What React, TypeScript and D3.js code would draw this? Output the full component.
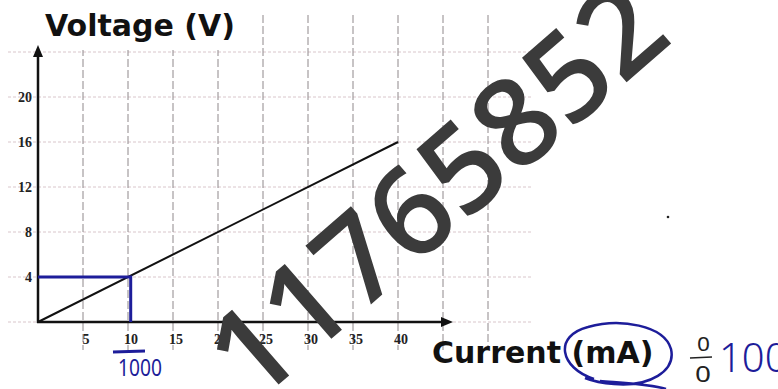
import React from 'react';
import * as d3 from 'd3';

const currentTicks = [5, 10, 15, 20, 25, 30, 35, 40];
const voltageTicks = [4, 8, 12, 16, 20];
const gridCurrents = [5, 10, 15, 20, 25, 30, 35, 40, 45, 50];
const gridVoltages = [0, 4, 8, 12, 16, 20, 24];
const lineCurrent = [0, 40];
const lineVoltage = [0, 16];
const markCurrent = [0, 10.3, 10.3];
const markVoltage = [4, 4, 0];
const watermark = '11765852';

const W = 778;
const H = 389;

export default function App() {
  const x = d3.scaleLinear().domain([0, 50]).range([38, 488]);
  const y = d3.scaleLinear().domain([0, 24]).range([322, 52]);
  const line = d3
    .line<number>()
    .x((d) => x(lineCurrent[d]))
    .y((d) => y(lineVoltage[d]));
  const mark = d3
    .line<number>()
    .x((d) => x(markCurrent[d]))
    .y((d) => y(markVoltage[d]));
  const blue = '#1d1d9a';
  return (
    <svg
      width={W}
      height={H}
      style={{ position: 'absolute', left: 0, top: 0, background: '#fff' }}
    >
      <rect x={0} y={0} width={W} height={H} fill="#fff" />
      {/* grid */}
      {gridVoltages.map((v) => (
        <line
          key={'h' + v}
          x1={8}
          x2={532}
          y1={y(v)}
          y2={y(v)}
          stroke="#d9c6cb"
          strokeWidth={1}
          strokeDasharray="3,2"
        />
      ))}
      {gridCurrents.map((c) => (
        <line
          key={'v' + c}
          x1={x(c)}
          x2={x(c)}
          y1={15}
          y2={350}
          stroke="#8f888b"
          strokeWidth={1}
          strokeDasharray="8,3"
        />
      ))}
      <rect x={40} y={8} width={200} height={42} fill="#fff" />
      {/* axes */}
      <line x1={x(0)} x2={x(0)} y1={y(0) + 1} y2={56} stroke="#111" strokeWidth={2.5} />
      <path d={`M${x(0)},45 L${x(0) - 5},57 L${x(0) + 5},57 Z`} fill="#111" />
      <line x1={x(0) - 1} x2={442} y1={y(0)} y2={y(0)} stroke="#111" strokeWidth={2.5} />
      <path d={`M453,${y(0)} L441,${y(0) - 5} L441,${y(0) + 5} Z`} fill="#111" />
      {/* data line */}
      <path d={line([0, 1]) || ''} stroke="#111" strokeWidth={2} fill="none" />
      {/* blue annotation */}
      <path d={mark([0, 1, 2]) || ''} stroke={blue} strokeWidth={3} fill="none" />
      {/* tick labels */}
      {voltageTicks.map((v) => (
        <text
          key={'yt' + v}
          x={32}
          y={y(v) + 5}
          textAnchor="end"
          fontFamily="Liberation Serif"
          fontWeight="bold"
          fontSize={14}
          fill="#222"
        >
          {v}
        </text>
      ))}
      {currentTicks.map((c) => (
        <text
          key={'xt' + c}
          x={x(c) + 3}
          y={344}
          textAnchor="middle"
          fontFamily="Liberation Serif"
          fontWeight="bold"
          fontSize={14}
          fill="#222"
        >
          {c}
        </text>
      ))}
      {/* titles */}
      <text x={45} y={36} fontFamily="DejaVu Sans" fontWeight="bold" fontSize={30} fill="#111">
        Voltage (V)
      </text>
      <text x={432} y={363} fontFamily="DejaVu Sans" fontWeight="bold" fontSize={30} fill="#111">
        Current (mA)
      </text>
      {/* handwriting */}
      <path
        d="M594,379 C560,368 553,336 588,327 C620,318 664,325 671,349 C676,371 650,387 614,384 C600,383 590,380 585,378 M600,381 C625,383 650,384 666,389"
        stroke={blue}
        strokeWidth={2.5}
        fill="none"
      />
      <line x1={113} x2={145} y1={352} y2={351} stroke={blue} strokeWidth={3} />
      <text
        x={118}
        y={376}
        fontFamily="Noto Sans"
        fontSize={24}
        fill={blue}
        textLength={44}
        lengthAdjust="spacingAndGlyphs"
      >
        1000
      </text>
      <text x={697} y={351} fontFamily="Noto Sans" fontSize={20} fill="#222" textLength={13} lengthAdjust="spacingAndGlyphs">
        0
      </text>
      <line x1={690} x2={712} y1={358} y2={357} stroke="#222" strokeWidth={1.5} />
      <text x={695} y={382} fontFamily="Noto Sans" fontSize={22} fill="#222" textLength={16} lengthAdjust="spacingAndGlyphs">
        0
      </text>
      <text x={719} y={372} fontFamily="Noto Sans" fontWeight={300} fontSize={40} fill={blue}>
        100
      </text>
      <circle cx={668} cy={217} r={1.3} fill="#222" />
      {/* watermark */}
      <text
        transform="translate(254,406) rotate(-41)"
        fontFamily="Open Sans"
        fontWeight={600}
        fontSize={122}
        fill="#3b3b3b"
      >
        {watermark}
      </text>
    </svg>
  );
}
